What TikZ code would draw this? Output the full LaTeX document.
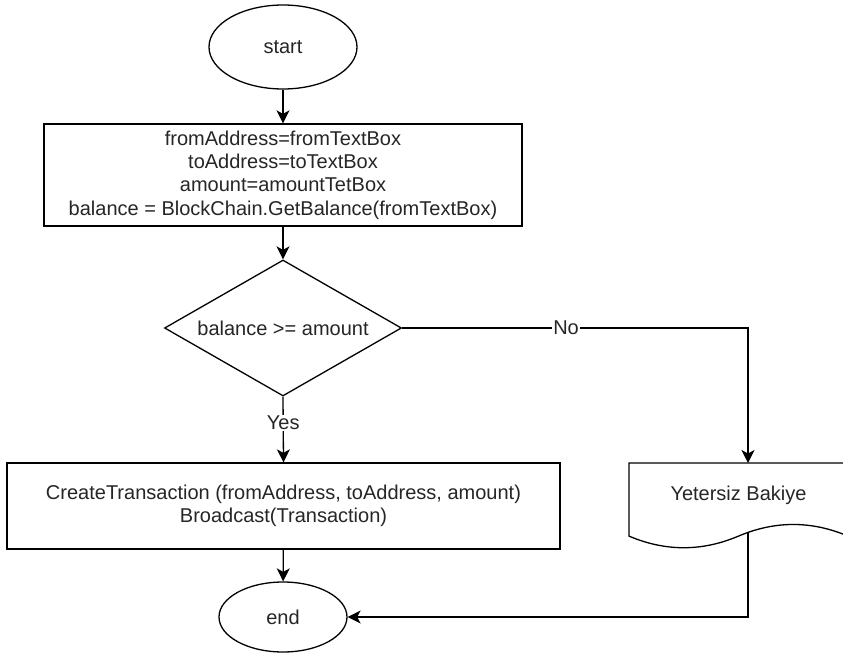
\documentclass[tikz,border=0pt]{standalone}
\usepackage{fontspec}
\setmainfont{Liberation Sans}
\usetikzlibrary{shapes.geometric,arrows.meta}
\begin{document}
\begin{tikzpicture}[x=1pt,y=-1pt,
  font=\fontsize{20}{23.4}\selectfont,
  txt/.style={text=black!85},
  shp/.style={draw=black, line width=1.3pt, fill=white, txt},
  terminal/.style={shp, ellipse, inner sep=0pt},
  procbox/.style={shp, rectangle, inner sep=0pt, align=center},
  decision/.style={shp, diamond, inner sep=0pt, aspect=1.74},
  lbl/.style={fill=white, inner sep=1pt, txt},
  arr/.style={line width=1.3pt, draw=black,
    -{Stealth[length=13pt, width=13pt, inset=3.5pt]}}]
\useasboundingbox (0,0) rectangle (843,655);
\clip (0,0) rectangle (843,655);

% flow nodes
\node[terminal, minimum width=148pt, minimum height=84pt] (start) at (283,47) {start};
\node[procbox, minimum width=478pt, minimum height=102pt] (init) at (283,175)
  {fromAddress=fromTextBox\\toAddress=toTextBox\\amount=amountTetBox\\balance = BlockChain.GetBalance(fromTextBox)};
\node[decision, minimum width=237pt, minimum height=136pt] (check) at (283,328) {balance >= amount};
\node[procbox, minimum width=553pt, minimum height=86pt] (send) at (283.5,506)
  {CreateTransaction (fromAddress, toAddress, amount)\\Broadcast(Transaction)};
\node[terminal, minimum width=128pt, minimum height=70pt] (end) at (283,617) {end};

% document shape with wavy bottom
\draw[shp] (629,463) -- (848,463) -- (848,536.1)
  .. controls (811.5,520.6) and (775,520.6) .. (738.5,536.1)
  .. controls (702,551.6) and (665.5,551.6) .. (629,536.1) -- cycle;
\node[txt] (doc) at (738.5,495) {Yetersiz Bakiye};
\coordinate (docin) at (748,463);
\coordinate (docout) at (748,532.3);

% connectors
\draw[arr] (start) -- (init);
\draw[arr] (init) -- (check);
\draw[arr] (check.east) -- node[lbl, pos=0.474] {No} (check.east -| docin) -- (docin);
\draw[arr] (check.south) -- node[lbl, pos=0.4] {Yes} (send.north);
\draw[arr] (send) -- (end);
\draw[arr] (docout) |- (end.east);
\end{tikzpicture}
\end{document}
